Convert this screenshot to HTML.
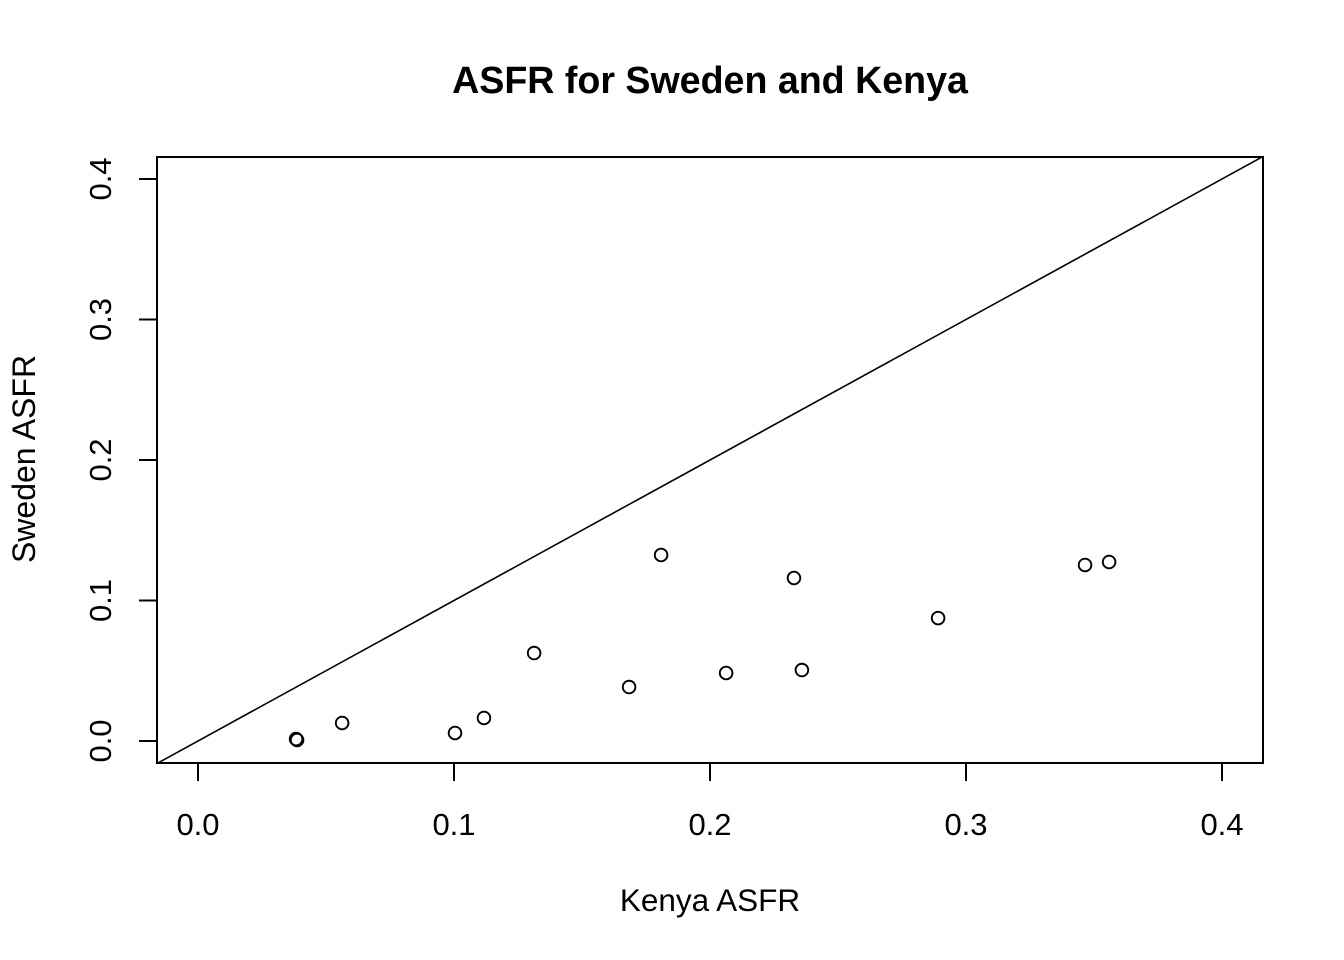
<!DOCTYPE html>
<html><head><meta charset="utf-8"><style>
body{margin:0;background:#fff;}
svg{display:block;font-family:"Liberation Sans",Arial,sans-serif;}
</style></head><body>
<svg id="chart" width="1344" height="960" viewBox="0 0 1344 960">
<text x="710" y="93" text-anchor="middle" font-size="37.6" font-weight="bold">ASFR for Sweden and Kenya</text>
<text x="710" y="911" text-anchor="middle" font-size="31.5">Kenya ASFR</text>
<text transform="translate(35,459) rotate(-90)" text-anchor="middle" font-size="32">Sweden ASFR</text>
<defs><clipPath id="pc"><rect x="157" y="157" width="1106" height="606"/></clipPath></defs>
<g id="xaxis"></g>
<g id="yaxis"></g>
<g id="marks" clip-path="url(#pc)"></g>
<rect x="157" y="157" width="1106" height="606" fill="none" stroke="#000" stroke-width="2"/>
</svg>
<script>
const kenya = [0.0383,0.0387,0.0563,0.1004,0.1117,0.1313,0.1684,0.1809,0.2063,0.2328,0.2359,0.2891,0.3465,0.3559];
const sweden = [0.0014,0.0007,0.0128,0.0057,0.0164,0.0626,0.0384,0.1324,0.0484,0.1160,0.0505,0.0875,0.1253,0.1274];
const xTicks = [0.0,0.1,0.2,0.3,0.4];
const yTicks = [0.0,0.1,0.2,0.3,0.4];
const xTickLabels = ["0.0","0.1","0.2","0.3","0.4"];
const yTickLabels = ["0.0","0.1","0.2","0.3","0.4"];
const NS="http://www.w3.org/2000/svg";
const X = v => 198 + v*2560;
const Y = v => 741 - v*1405;
function mk(t,a,p){const e=document.createElementNS(NS,t);for(const k in a)e.setAttribute(k,a[k]);p.appendChild(e);return e;}
const xa=document.getElementById('xaxis'), ya=document.getElementById('yaxis'), mg=document.getElementById('marks');
mk('line',{x1:X(xTicks[0]),x2:X(xTicks[xTicks.length-1]),y1:763,y2:763,stroke:'#000','stroke-width':2},xa);
xTicks.forEach((t,i)=>{
  const l=mk('line',{x1:X(t),x2:X(t),y1:763,y2:781,stroke:'#000','stroke-width':2},xa);
  
  
  const tx=mk('text',{x:X(t),y:835,'text-anchor':'middle','font-size':31},xa);
  tx.textContent=xTickLabels[i];
  
  
});
mk('line',{x1:157,x2:157,y1:Y(yTicks[0]),y2:Y(yTicks[yTicks.length-1]),stroke:'#000','stroke-width':2},ya);
yTicks.forEach((t,i)=>{
  const l=mk('line',{x1:139,x2:157,y1:Y(t),y2:Y(t),stroke:'#000','stroke-width':2},ya);
  
  
  const tx=mk('text',{x:0,y:0,'text-anchor':'middle','font-size':31,transform:`translate(111,${Y(t)}) rotate(-90)`},ya);
  tx.textContent=yTickLabels[i];
  
  
});
const d=mk('line',{x1:X(-0.1),y1:Y(-0.1),x2:X(0.5),y2:Y(0.5),stroke:'#000','stroke-width':1.6},mg);


kenya.forEach((k,i)=>{
  const c=mk('circle',{cx:X(k),cy:Y(sweden[i]),r:6.3,fill:'none',stroke:'#000','stroke-width':1.9},mg);
  
  
});
</script>
</body></html>
